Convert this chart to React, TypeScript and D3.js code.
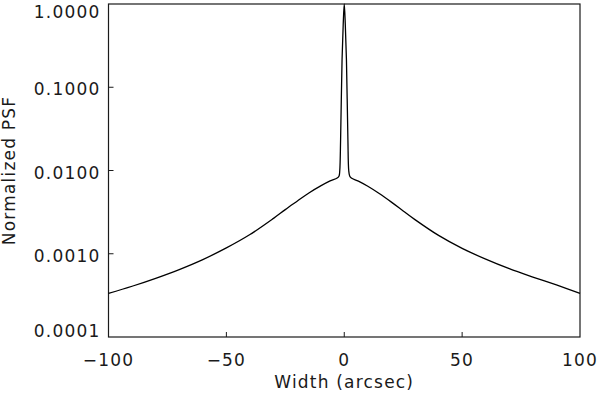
import * as d3 from "d3";

// ── Data ──────────────────────────────────────────────────
const widthArcsec = [
  -100, -90, -80, -70, -60, -50, -40, -30, -25, -20, -15, -10, -6, -3, -2.2,
  -1.9, -1.55, -0.93, -0.45, 0, 0.45, 0.93, 1.55, 1.9, 2.3,
  3, 6, 10, 15, 20, 25, 30, 40, 50, 60, 70, 80, 90, 100,
];
const psfValues = [
  3.35e-4, 4.07e-4, 5.07e-4, 6.46e-4, 8.51e-4, 1.175e-3, 1.7e-3, 2.66e-3,
  3.39e-3, 4.27e-3, 5.37e-3, 6.53e-3, 7.5e-3, 8.13e-3, 8.6e-3,
  0.01, 0.0234, 0.214, 0.56, 1.0, 0.56, 0.214, 0.0234, 0.01, 8.6e-3,
  8.13e-3, 7.45e-3, 6.46e-3, 5.25e-3, 4.17e-3, 3.27e-3, 2.57e-3, 1.66e-3,
  1.16e-3, 8.61e-4, 6.61e-4, 5.25e-4, 4.22e-4, 3.35e-4,
];
const xTicks = [-100, -50, 0, 50, 100];
const yTicks = [1, 0.1, 0.01, 0.001, 0.0001];

// ── Layout ────────────────────────────────────────────────
const W = 600;
const H = 395;
const margin = { top: 4, right: 20, bottom: 58, left: 108.5 };
const FONT = "'DejaVu Sans', sans-serif";
const INK = "#1a1a1a";

const x = d3.scaleLinear().domain([-100, 100]).range([margin.left, W - margin.right]);
const y = d3.scaleLog().domain([1e-4, 1]).range([H - margin.bottom, margin.top]);

const points = widthArcsec.map((w, i) => [w, psfValues[i]] as [number, number]);
const line = d3.line<[number, number]>()
  .x(d => x(d[0]))
  .y(d => y(d[1]))
  .curve(d3.curveCatmullRom.alpha(0.5));

const fmtY = d3.format(".4f");
const fmtX = (v: number) => (v < 0 ? "\u2212" + Math.abs(v) : String(v));

export default function App() {
  const [x0, x1] = x.range();
  const [y0, y1] = y.range(); // y0 bottom, y1 top

  return (
    <svg width={W} height={H}
      style={{ position: "absolute", left: 0, top: 0, background: "#fff" }}
      fontFamily={FONT}>

      {/* frame */}
      <rect x={x0} y={y1} width={x1 - x0} height={y0 - y1}
        fill="none" stroke={INK} strokeWidth={1.2} />

      {/* x ticks */}
      {xTicks.map(t => (
        <g key={t}>
          {t > -100 && t < 100 && (
            <line x1={x(t)} x2={x(t)} y1={y0} y2={y0 - 5} stroke={INK} strokeWidth={1} />
          )}
          <text x={x(t)} y={y0 + 29} textAnchor="middle" fontSize={17}
            letterSpacing={1.2} fill={INK}>{fmtX(t)}</text>
        </g>
      ))}

      {/* y ticks */}
      {yTicks.map(t => {
        const ty = y(t);
        const base = Math.min(Math.max(ty + 8, y1 + 14), y0);
        return (
          <g key={t}>
            {t < 1 && t > 1e-4 && (
              <line x1={x0} x2={x0 + 5} y1={ty} y2={ty} stroke={INK} strokeWidth={1} />
            )}
            <text x={x0 - 8} y={base} textAnchor="end" fontSize={17}
              letterSpacing={1.2} fill={INK}>{fmtY(t)}</text>
          </g>
        );
      })}

      {/* axis titles */}
      <text x={(x0 + x1) / 2} y={H - 7} textAnchor="middle" fontSize={17}
        letterSpacing={1.2} fill={INK}>Width (arcsec)</text>
      <text transform={`translate(15, ${(y0 + y1) / 2}) rotate(-90)`}
        textAnchor="middle" fontSize={17} letterSpacing={1.2} fill={INK}>
        Normalized PSF
      </text>

      {/* PSF curve */}
      <path d={line(points) ?? ""} fill="none" stroke="#000" strokeWidth={1.3} />
    </svg>
  );
}
